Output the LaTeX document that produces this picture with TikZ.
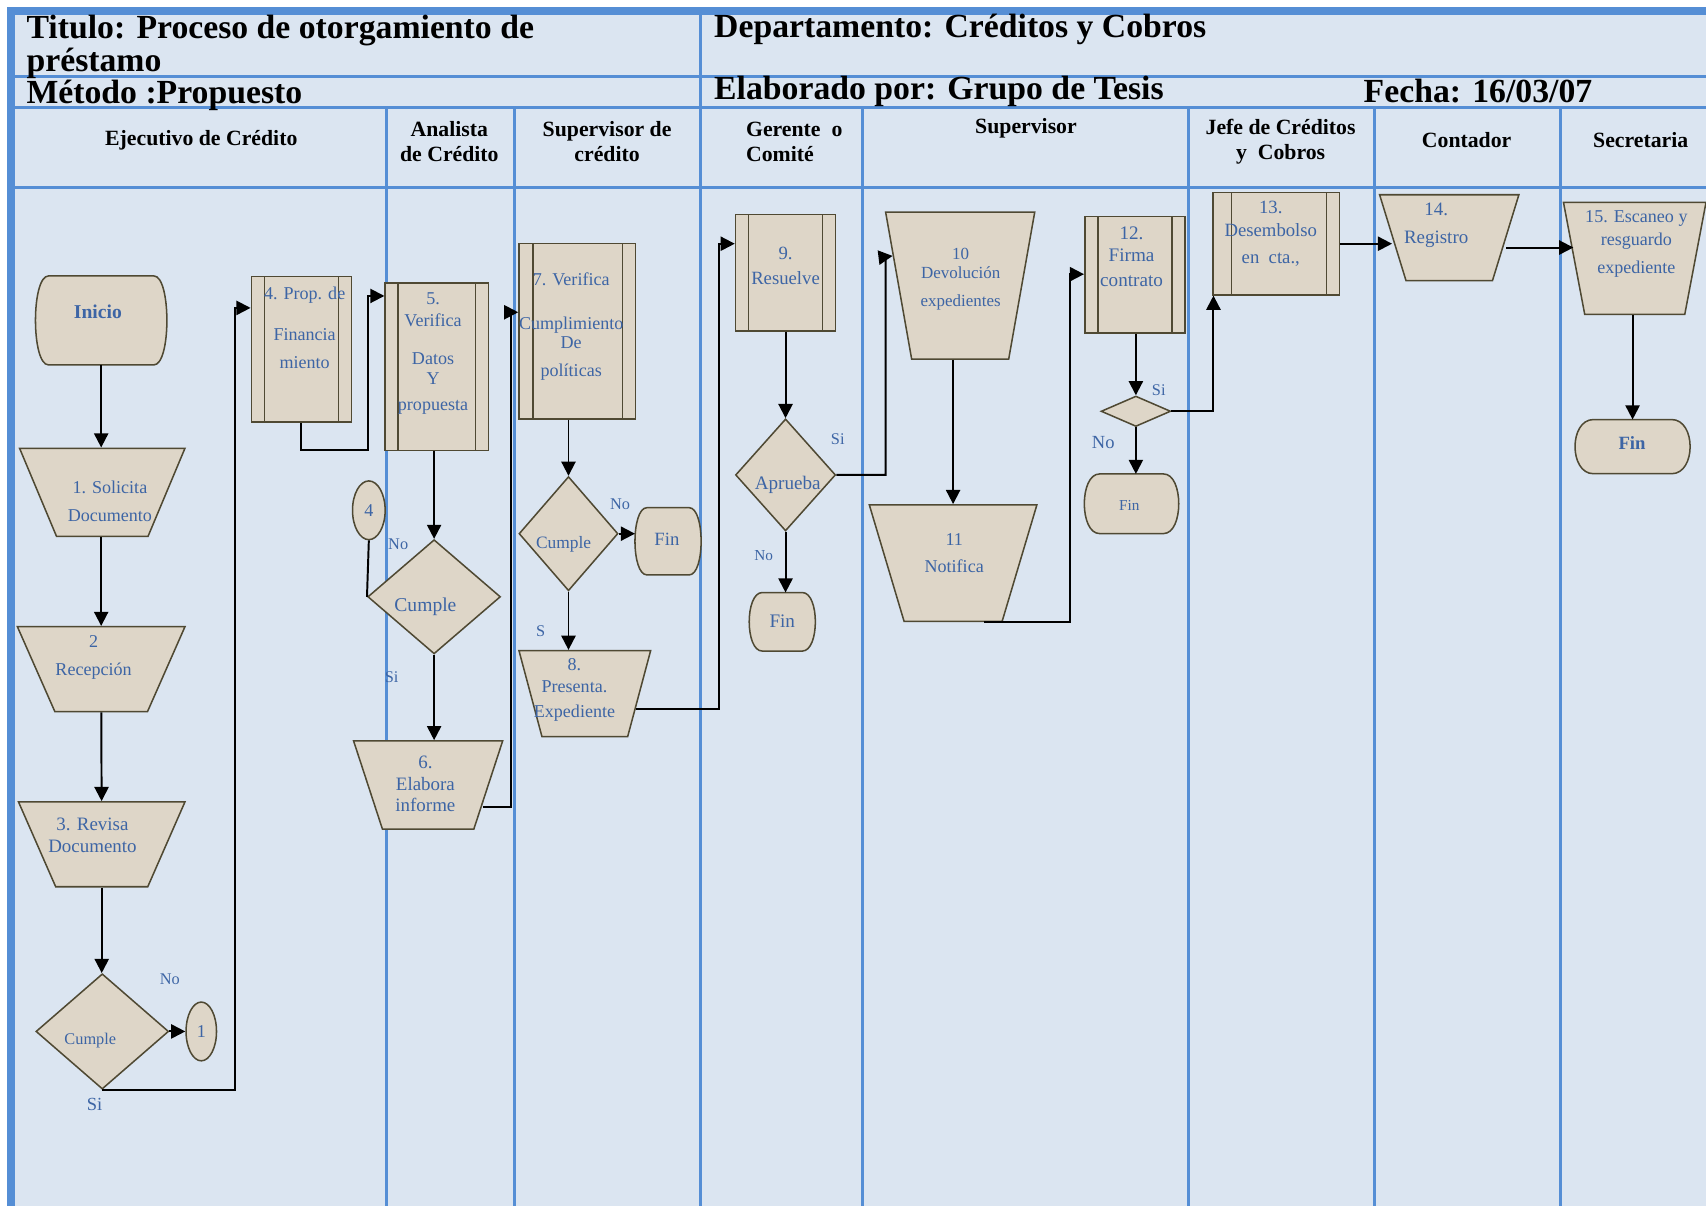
\documentclass[tikz,border=0pt]{standalone}
\usepackage{fontspec}
\setmainfont{Liberation Serif}
\usepackage{xcolor}
\definecolor{LaneBlue}{HTML}{558ED5}
\definecolor{LanePale}{HTML}{DBE5F1}
\definecolor{StepFill}{HTML}{DED6C8}
\definecolor{StepEdge}{HTML}{4F4933}
\definecolor{StepText}{HTML}{3D65A5}
\usepackage{tikz}
\usetikzlibrary{shapes.geometric,arrows.meta,calc}

\begin{document}
\begin{tikzpicture}[
  x=0.5pt, y=-0.5pt,
  lane/.style={draw=LaneBlue, line width=1.3pt},
  frame/.style={draw=LaneBlue, line width=3.5pt},
  head/.style={font=\fontsize{15.5}{15}\selectfont\bfseries, anchor=west,
               align=left, inner sep=0pt},
  colhead/.style={font=\fontsize{10}{11.5}\selectfont\bfseries, align=center,
                  inner sep=0pt},
  shp/.style={draw=StepEdge, fill=StepFill, line width=0.7pt, inner sep=0pt},
  procbox/.style={shp, rectangle,
    path picture={\draw[StepEdge, line width=0.7pt]
      ([xshift=#1]path picture bounding box.north west) --
      ([xshift=#1]path picture bounding box.south west)
      ([xshift=-6pt]path picture bounding box.north east) --
      ([xshift=-6pt]path picture bounding box.south east);}},
  procbox/.default=6pt,
  manual/.style={shp, trapezium, shape border rotate=180, inner sep=1pt,
                 trapezium stretches=true, trapezium angle=#1},
  term/.style={rectangle, inner sep=0pt,
    append after command={\pgfextra{\draw[shp]
      ([xshift=#1]\tikzlastnode.north west) -- ([xshift=-#1]\tikzlastnode.north east)
      .. controls ([xshift=0.333*#1]\tikzlastnode.north east)
         and ([xshift=0.333*#1]\tikzlastnode.south east)
      .. ([xshift=-#1]\tikzlastnode.south east)
      -- ([xshift=#1]\tikzlastnode.south west)
      .. controls ([xshift=-0.333*#1]\tikzlastnode.south west)
         and ([xshift=-0.333*#1]\tikzlastnode.north west)
      .. ([xshift=#1]\tikzlastnode.north west) -- cycle;}}},
  term/.default=6pt,
  decision/.style={shp, diamond},
  joint/.style={shp, ellipse},
  txt/.style={text=StepText, font=\fontsize{8.3}{10}\selectfont, align=center,
              inner sep=0pt},
  yesno/.style={text=StepText, font=\fontsize{7.5}{9}\selectfont, inner sep=0pt},
  arrow/.style={-{Triangle[length=6.5pt,width=6.5pt]}, line width=0.9pt},
  link/.style={line width=0.9pt},
]
\useasboundingbox (0,0) rectangle (1568,1108);
\fill[LanePale] (10,10) rectangle (1568,1108);
\foreach \y in {70,99,172}
  \draw[lane] (10,\y) -- (1568,\y);
\draw[lane] (644,10) -- (644,1108);
\foreach \x in {355,473,793,1092,1263,1434}
  \draw[lane] (\x,99) -- (\x,1108);
\draw[frame] (10,1108) -- (10,10) -- (1568,10);

\node[head] (title) at (24,43) {Titulo: Proceso de otorgamiento de\\préstamo};
\node[head] (metodo) at (24,88) {Método :Propuesto};
\node[head] (depto) at (656,27) {Departamento: Créditos y Cobros};
\node[head] (autor) at (656,84) {Elaborado por: Grupo de Tesis};
\node[head] (fecha) at (1253,84) {Fecha: 16/03/07};

\node[colhead] (hEjec) at (185,129) {Ejecutivo de Crédito};
\node[colhead] (hAnal) at (413,130) {Analista\\de Crédito};
\node[colhead] (hSupC) at (558,130) {Supervisor de\\crédito};
\node[colhead, align=left] (hGer) at (730,130) {Gerente\ \ o\\Comité};
\node[colhead] (hSup) at (943,118) {Supervisor};
\node[colhead] (hJefe) at (1177,130) {Jefe de Créditos\\y\ \ Cobros};
\node[colhead] (hCont) at (1348,129) {Contador};
\node[colhead] (hSecr) at (1508,129) {Secretaria};

\node[term, minimum width=60pt, minimum height=40.5pt] (inicio) at (93,294.5) {};
\node[manual=68, minimum width=76pt, minimum height=40.5pt] (T1) at (94,452.5) {};
\node[manual=68, minimum width=77pt, minimum height=39pt] (T2) at (93,615) {};
\node[manual=68, minimum width=76.5pt, minimum height=39pt] (T3) at (93.5,776) {};
\node[decision, minimum width=61pt, minimum height=53pt] (D1) at (94,948) {};
\node[joint, minimum width=14pt, minimum height=27pt] (C1) at (185,948) {};

\node[procbox, minimum width=46pt, minimum height=67pt] (B4) at (277,321) {};
\node[procbox, minimum width=47.5pt, minimum height=77pt] (B5) at (401.5,337) {};
\node[decision, minimum width=61pt, minimum height=52.5pt] (D5) at (399,548.5) {};
\node[joint, minimum width=15pt, minimum height=27pt] (C4) at (339,469) {};
\node[manual=72.5, minimum width=68.5pt, minimum height=40.5pt] (T6) at (393.5,721.5) {};

\node[procbox=6.5pt, minimum width=53.5pt, minimum height=80.5pt] (B7) at (530.5,304.5) {};
\node[decision, minimum width=45.5pt, minimum height=52.5pt] (D7) at (522.5,490.5) {};
\node[term=5.5pt, minimum width=30pt, minimum height=30.5pt] (F7) at (614,497.5) {};
\node[manual=75, minimum width=60.5pt, minimum height=39.5pt] (T8) at (537.5,637.5) {};

\node[procbox, minimum width=46pt, minimum height=53.5pt] (B9) at (722,250.5) {};
\node[decision, minimum width=46pt, minimum height=51.5pt] (D9) at (722,436.5) {};
\node[term, minimum width=30pt, minimum height=26.5pt] (F9) at (719,571.5) {};

\node[manual=75, minimum width=68.5pt, minimum height=67.5pt] (T10) at (882.5,262.5) {};
\node[manual=70.5, minimum width=77pt, minimum height=53.5pt] (T11) at (876,517.5) {};
\node[procbox, minimum width=46pt, minimum height=53.5pt] (B12) at (1043,252.5) {};
\node[decision, minimum width=32pt, minimum height=14pt] (D12) at (1044,378) {};
\node[term=7pt, minimum width=43pt, minimum height=27pt] (F12) at (1040,463) {};

\node[procbox=8.5pt, minimum width=58pt, minimum height=47pt] (B13) at (1173,224) {};
\node[manual=73, minimum width=64pt, minimum height=39.5pt] (T14) at (1332,218.5) {};
\node[manual=78, minimum width=65.5pt, minimum height=51.5pt] (T15) at (1502.5,237.5) {};
\node[term=8.5pt, minimum width=52.5pt, minimum height=24.5pt] (F15) at (1500.5,410.5) {};

\node[txt, font=\fontsize{9}{10}\selectfont\bfseries] (tInicio) at (90,287) {Inicio};
\node[txt] (tT1) at (101,461) {1. Solicita\\[3pt]Documento};
\node[txt] (tT2) at (86,604) {2\\[3pt]Recepción};
\node[txt, font=\fontsize{8.7}{10}\selectfont] (tT3) at (85,767.5) {3. Revisa\\Documento};
\node[txt, font=\fontsize{7.5}{9}\selectfont] (tD1) at (83,956) {Cumple};
\node[txt] (tC1) at (185,948) {1};
\node[txt] (tB4) at (280,301.5) {4. Prop. de\\[8.5pt]Financia\\[3pt]miento};
\node[txt] (tB5) at (398,325) {5.\\Verifica\\[7.5pt]Datos\\[-1pt]Y\\[2pt]propuesta};
\node[txt, font=\fontsize{9}{10}\selectfont] (tD5) at (391,558) {Cumple};
\node[txt] (tC4) at (339,469) {4};
\node[txt, font=\fontsize{8.7}{10}\selectfont] (tT6) at (391,720.5) {6.\\Elabora\\informe};
\node[txt] (tB7) at (525,300) {7. Verifica\\[10.5pt]Cumplimiento\\[-1.5pt]De\\[3pt]políticas};
\node[txt, font=\fontsize{8}{9}\selectfont] (tD7) at (518,500) {Cumple};
\node[txt, font=\fontsize{8.6}{10}\selectfont] (tF7) at (613,496) {Fin};
\node[txt] (tT8) at (528,634) {8.\\Presenta.\\[1.5pt]Expediente};
\node[txt, font=\fontsize{8.6}{10}\selectfont] (tB9) at (722,244.5) {9.\\[1.5pt]Resuelve};
\node[txt, font=\fontsize{8.8}{10}\selectfont] (tD9) at (724,446) {Aprueba};
\node[txt, font=\fontsize{8.8}{10}\selectfont] (tF9) at (719,571) {Fin};
\node[txt, font=\fontsize{7.8}{10}\selectfont] (tT10) at (883,256.5) {10\\[-1.5pt]Devolución\\[3pt]expedientes};
\node[txt] (tT11) at (877,508.5) {11\\[2.5pt]Notifica};
\node[txt, font=\fontsize{8.8}{10}\selectfont] (tB12) at (1040,236) {12.\\[0.5pt]Firma\\[1.5pt]contrato};
\node[txt, font=\fontsize{7}{9}\selectfont] (tF12) at (1038,465) {Fin};
\node[txt, font=\fontsize{8.6}{10}\selectfont] (tB13) at (1168,215) {13.\\[0.5pt]Desembolso\\[2.5pt]en\ \ cta.,};
\node[txt, font=\fontsize{8.7}{10}\selectfont] (tT14) at (1320,207) {14.\\[3pt]Registro};
\node[txt] (tT15) at (1504,224.5) {15. Escaneo y\\[0.5pt]resguardo\\[3pt]expediente};
\node[txt, font=\fontsize{8.6}{10}\selectfont\bfseries] (tF15) at (1500,407) {Fin};

\node[yesno] (n1) at (156,900) {No};
\node[yesno, font=\fontsize{8.5}{10}\selectfont] (s1) at (87,1015) {Si};
\node[yesno] (n5) at (366,500) {No};
\node[yesno] (s5) at (360,622) {Si};
\node[yesno] (n7) at (570,463) {No};
\node[yesno] (s7) at (497,580) {S};
\node[yesno] (s9) at (770,404) {Si};
\node[yesno, font=\fontsize{7}{9}\selectfont] (n9) at (702,511) {No};
\node[yesno] (s12) at (1065,359) {Si};
\node[yesno, font=\fontsize{8.5}{10}\selectfont] (n12) at (1014,407) {No};

\coordinate (k1) at (216,283);
\coordinate (k2) at (338,272);
\coordinate (k3) at (470,287);
\coordinate (k4) at (661,224);
\coordinate (k5) at (814,236);
\coordinate (k6) at (983,252);
\coordinate (t10in) at ($(T10.bottom right corner)!0.3!(T10.top right corner)$);

\draw[arrow] (inicio.south) -- (inicio.south |- T1.north);
\draw[arrow] (T1.south -| T2.north) -- (T2.north);
\draw[arrow] (T2) -- (T3);
\draw[arrow] (T3.south) -- (T3.south |- D1.north);
\draw[arrow] (D1.east) -- (C1.west);
\draw[arrow] (D1.south) -| (k1) -- (k1 -| B4.west);
\draw[arrow] (B4.south) -- ++(0,25) -| (k2) -- (k2 -| B5.west);
\draw[arrow] (B5.south -| D5.north) -- (D5.north);
\draw[link] (C4.south) -- (D5.west);
\draw[arrow] (D5.south) -- (D5.south |- T6.north);
\draw[arrow] ([shift={(-3pt,-10pt)}]T6.east) -| (k3) -- (k3 -| B7.west);
\draw[arrow] (B7.south -| D7.north) -- (D7.north);
\draw[arrow] (D7.east) -- (D7.east -| F7.west);
\draw[arrow] (D7.south) -- (D7.south |- T8.north);
\draw[arrow] ([shift={(-2pt,-7pt)}]T8.east) -| (k4) -- (k4 -| B9.west);
\draw[arrow] (B9) -- (D9);
\draw[arrow] (D9.south) -- (D9.south |- F9.north);
\draw[arrow] (D9.east) -| (k5) -- (t10in);
\draw[arrow] (T10.south -| T11.north) -- (T11.north);
\draw[arrow] ([xshift=14pt]T11.south) -| (k6) -- (k6 -| B12.west);
\draw[arrow] (B12.south -| D12.north) -- (D12.north);
\draw[arrow] (D12.south) -- (D12.south |- F12.north);
\draw[arrow] (D12.east) -| ([xshift=0.5pt]B13.south west);
\draw[arrow] (B13.east) -- (B13.east -| T14.west);
\draw[arrow] ([yshift=-4.5pt]T14.east) -- ([yshift=-4.5pt]T14.east -| T15.west);
\draw[arrow] (T15.south -| F15.north) -- (F15.north);
\end{tikzpicture}
\end{document}
